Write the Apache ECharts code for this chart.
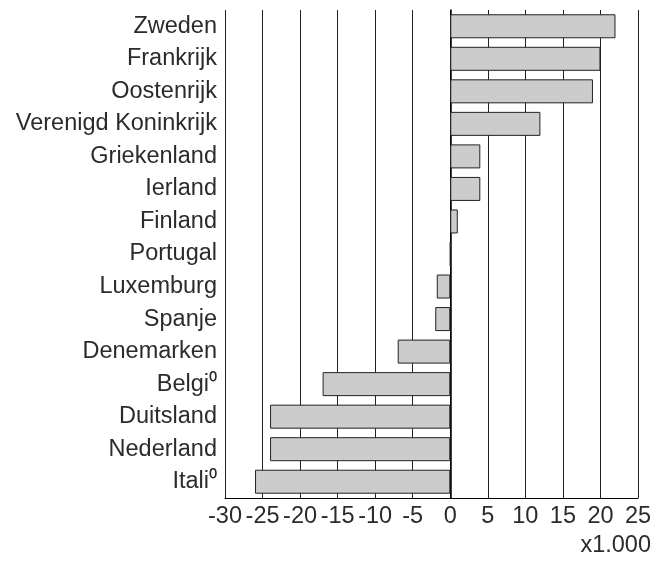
<!DOCTYPE html>
<html>
<head>
<meta charset="utf-8">
<script src="https://cdn.jsdelivr.net/npm/echarts@6/dist/echarts.min.js"></script>
<style>
html,body{margin:0;padding:0;background:#fff;}
#chart{width:656px;height:562px;}
</style>
</head>
<body>
<div id="chart"></div>
<script>
// landen, van boven naar onder
var landen = ['Zweden','Frankrijk','Oostenrijk','Verenigd Koninkrijk','Griekenland','Ierland','Finland','Portugal','Luxemburg','Spanje','Denemarken','Belgi\u2070','Duitsland','Nederland','Itali\u2070'];
// saldo x1.000
var saldo = [22, 20, 19, 12, 4, 4, 1, 0, -1.8, -2, -7, -17, -24, -24, -26];
var asMin = -30, asMax = 25, asStap = 5;
var eenheid = 'x1.000';

var chart = echarts.init(document.getElementById('chart'));
var font = '"Liberation Sans", Arial, sans-serif';
chart.setOption({
    animation:false,
    grid:{left:225, right:18, top:10, bottom:64, containLabel:false},
    xAxis:{
        type:'value',
        min:asMin, max:asMax, interval:asStap,
        axisLine:{show:true, onZero:false, lineStyle:{color:'#000', width:1}},
        axisTick:{show:false},
        axisLabel:{color:'#2b2b2b', fontSize:23.5, fontFamily:font, margin:7},
        splitLine:{show:true, lineStyle:{color:'#222', width:1}}
    },
    yAxis:{
        type:'category',
        data:landen,
        inverse:true,
        axisLine:{show:true, onZero:true, lineStyle:{color:'#000', width:1.5}},
        axisTick:{show:false},
        axisLabel:{color:'#2b2b2b', fontSize:23.5, fontFamily:font, margin:8}
    },
    graphic:[{
        type:'text', right:5, bottom:4,
        style:{text:eenheid, fill:'#2b2b2b', font:'23.5px ' + font, textAlign:'right'}
    }],
    series:[{
        type:'bar',
        data:saldo,
        barWidth:24,
        itemStyle:{color:'#cccccc', borderColor:'#222', borderWidth:1}
    }]
});
</script>
</body>
</html>
